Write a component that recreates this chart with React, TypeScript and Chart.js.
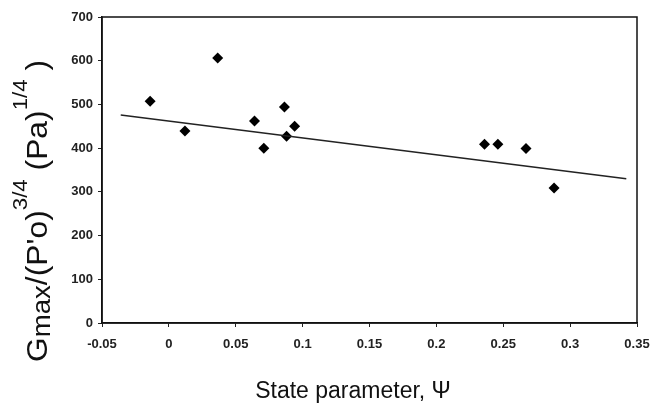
import React, { useEffect, useRef } from "react";
import { Chart, registerables } from "chart.js";

Chart.register(...registerables);

// Data
const psiValues = [-0.014, 0.012, 0.0365, 0.064, 0.0864, 0.094, 0.088, 0.071, 0.236, 0.246, 0.267, 0.288];
const gValues = [507, 439, 606, 462, 494, 450, 427, 400, 409, 409, 399, 309];
const trendPsi = [-0.036, 0.342];
const trendG = [476, 330];
const xTickValues = [-0.05, 0, 0.05, 0.1, 0.15, 0.2, 0.25, 0.3, 0.35];
const yTickValues = [0, 100, 200, 300, 400, 500, 600, 700];

const xTitle = "State parameter, \u03A8";
// y title pieces: [text, kind] kind: n normal, b subscript, p superscript
const yTitleParts: [string, string][] = [
  ["G", "n"],
  ["max", "b"],
  ["/(P'o)", "n"],
  ["3/4", "p"],
  [" (Pa)", "n"],
  ["1/4", "p"],
  [" )", "n"],
];

const FONT = "'Liberation Sans', Arial, sans-serif";

const framePlugin = {
  id: "framePlugin",
  afterDraw(chart: any) {
    const { ctx, chartArea } = chart;
    ctx.save();
    ctx.strokeStyle = "#111";
    ctx.lineWidth = 1.5;
    ctx.strokeRect(chartArea.left, chartArea.top, chartArea.right - chartArea.left, chartArea.bottom - chartArea.top);

    // x title
    ctx.fillStyle = "#111";
    ctx.font = `23px ${FONT}`;
    ctx.textAlign = "center";
    ctx.textBaseline = "alphabetic";
    ctx.fillText(xTitle, 353, 398);

    // y title (rotated)
    const size = (k: string) => (k === "n" ? 30 : k === "b" ? 26 : 21);
    let total = 0;
    for (const [t, k] of yTitleParts) {
      ctx.font = `${size(k)}px ${FONT}`;
      total += ctx.measureText(t).width;
    }
    const stretch = 1.06;
    ctx.translate(47, 211);
    ctx.rotate(-Math.PI / 2);
    ctx.scale(stretch, 1);
    ctx.textAlign = "left";
    let x = -total / 2;
    for (const [t, k] of yTitleParts) {
      ctx.font = `${size(k)}px ${FONT}`;
      const dy = k === "b" ? 3 : k === "p" ? -20 : 0;
      ctx.fillText(t, x, dy);
      x += ctx.measureText(t).width;
    }
    ctx.restore();
  },
};

export default function App() {
  const ref = useRef<HTMLCanvasElement | null>(null);
  useEffect(() => {
    if (!ref.current) return;
    const chart = new Chart(ref.current, {
      type: "scatter",
      data: {
        datasets: [
          {
            type: "line",
            data: trendPsi.map((x, i) => ({ x, y: trendG[i] })),
            borderColor: "#222",
            borderWidth: 1.6,
            pointRadius: 0,
            fill: false,
          } as any,
          {
            data: psiValues.map((x, i) => ({ x, y: gValues[i] })),
            pointStyle: "rectRot",
            pointRadius: 5.5,
            backgroundColor: "#000",
            borderColor: "#000",
            borderWidth: 0,
          },
        ],
      },
      options: {
        responsive: false,
        animation: false,
        layout: { padding: { left: 0, right: 15, top: 17, bottom: 0 } },
        plugins: { legend: { display: false }, tooltip: { enabled: false } },
        scales: {
          x: {
            type: "linear",
            min: -0.05,
            max: 0.35,
            afterBuildTicks: (scale: any) => {
              scale.ticks = xTickValues.map((v) => ({ value: v }));
            },
            afterFit: (scale: any) => {
              scale.height = 82;
              scale.paddingLeft = 0;
              scale.paddingRight = 0;
            },
            ticks: {
              autoSkip: false,
              maxRotation: 0,
              padding: 10,
              color: "#222",
              font: { family: FONT, size: 13, weight: "bold" },
              callback: (v: any) => String(Number(Number(v).toFixed(2))),
            },
            grid: { drawOnChartArea: false, drawTicks: true, tickLength: 4, color: "#222" },
            border: { display: true, color: "#111", width: 1.5 },
          },
          y: {
            type: "linear",
            min: 0,
            max: 700,
            afterBuildTicks: (scale: any) => {
              scale.ticks = yTickValues.map((v) => ({ value: v }));
            },
            afterFit: (scale: any) => {
              scale.width = 102;
              scale.paddingTop = 0;
              scale.paddingBottom = 0;
            },
            ticks: {
              autoSkip: false,
              padding: 5,
              color: "#222",
              font: { family: FONT, size: 13, weight: "bold" },
            },
            grid: { drawOnChartArea: false, drawTicks: true, tickLength: 4, color: "#222" },
            border: { display: true, color: "#111", width: 1.5 },
          },
        },
      },
      plugins: [framePlugin],
    });
    return () => chart.destroy();
  }, []);
  return (
    <div style={{ position: "absolute", left: 0, top: 0, width: 652, height: 405, background: "#fff" }}>
      <canvas ref={ref} width={652} height={405} style={{ width: 652, height: 405 }} />
    </div>
  );
}
